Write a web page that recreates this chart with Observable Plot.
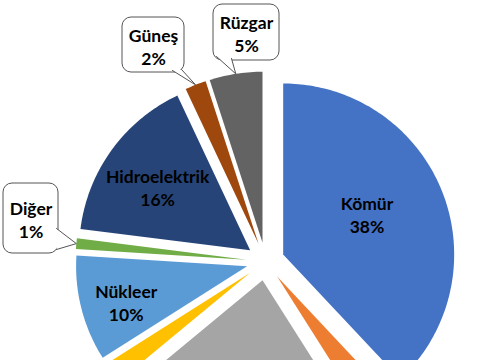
<!DOCTYPE html>
<html>
<head>
<meta charset="utf-8">
<script src="https://cdn.jsdelivr.net/npm/d3@7"></script>
<script src="https://cdn.jsdelivr.net/npm/@observablehq/plot@0.6"></script>
<style>
  html, body { margin: 0; padding: 0; background: #fff; overflow: hidden; }
  #chart svg { display: block; }
</style>
</head>
<body>
<div id="chart"></div>
<script>
// ---- data ----
const names = ["Kömür", "Petrol", "Doğalgaz", "Biyokütle", "Nükleer", "Diğer", "Hidroelektrik", "Güneş", "Rüzgar"];
const shares = [38, 3, 23, 2, 10, 1, 16, 2, 5];
const percentLabels = ["38%", "3%", "23%", "2%", "10%", "1%", "16%", "2%", "5%"];
const colors = ["#4472C4", "#ED7D31", "#A5A5A5", "#FFC000", "#5B9BD5", "#70AD47", "#264478", "#9E480E", "#636363"];
const insideLabelNames = ["Kömür", "Hidroelektrik", "Nükleer"];
const calloutNames = ["Rüzgar", "Güneş", "Diğer"];

// ---- layout (pixels) ----
const W = 485, H = 360;
const CX = 265, CY = 261, R = 171, EXPLODE = 19;
const labelFrac = {"Kömür": 0.54, "Hidroelektrik": 0.64, "Nükleer": 0.73};
const labelShift = {"Kömür": [-2, -6], "Hidroelektrik": [-4, 1], "Nükleer": [0, 5]};
const calloutBox = {
  "Rüzgar": {x1: 213, x2: 279, y1: 4, y2: 60, ax: 216, ay: 56, bx: 231, by: 58},
  "Güneş": {x1: 122, x2: 184, y1: 17, y2: 72, ax: 172, ay: 70, bx: 181, by: 69},
  "Diğer": {x1: 3, x2: 58, y1: 183, y2: 253, ax: 56, ay: 228, bx: 56, by: 249}
};

const data = names.map((n, i) => ({name: n, share: shares[i], pct: percentLabels[i]}));
const arcs = d3.pie().sort(null).value(d => d.share)(data);

const slicePts = [];
const geom = {};
for (const a of arcs) {
  const mid = (a.startAngle + a.endAngle) / 2;
  const ox = CX + EXPLODE * Math.sin(mid), oy = CY - EXPLODE * Math.cos(mid);
  geom[a.data.name] = {ox, oy, mid};
  slicePts.push({name: a.data.name, x: ox, y: oy});
  const n = Math.max(4, Math.ceil((a.endAngle - a.startAngle) / (Math.PI / 180)));
  for (let k = 0; k <= n; k++) {
    const t = a.startAngle + (a.endAngle - a.startAngle) * k / n;
    slicePts.push({name: a.data.name, x: ox + R * Math.sin(t), y: oy - R * Math.cos(t)});
  }
}

const inside = data.filter(d => insideLabelNames.includes(d.name)).map(d => {
  const g = geom[d.name], f = labelFrac[d.name], s = labelShift[d.name];
  return {text: d.name + "\n" + d.pct, x: g.ox + f * R * Math.sin(g.mid) + s[0], y: g.oy - f * R * Math.cos(g.mid) + s[1]};
});

const boxes = data.filter(d => calloutNames.includes(d.name)).map(d => ({name: d.name, text: d.name + "\n" + d.pct, ...calloutBox[d.name]}));
const tails = [];
for (const b of boxes) {
  const g = geom[b.name];
  const tx = g.ox + R * Math.sin(g.mid), ty = g.oy - R * Math.cos(g.mid);
  tails.push({name: b.name, x: b.ax, y: b.ay});
  tails.push({name: b.name, x: tx, y: ty});
  tails.push({name: b.name, x: b.bx, y: b.by});
}

const font = {fontFamily: "Lato, 'Open Sans', sans-serif", fontWeight: "bold", fontSize: 17.5, lineHeight: 1.32, fill: "#000"};

const chart = Plot.plot({
  width: W, height: H, margin: 0,
  style: {background: "#fff", overflow: "hidden"},
  x: {domain: [0, W], range: [0, W], axis: null},
  y: {domain: [0, H], range: [0, H], axis: null},
  color: {domain: names, range: colors},
  marks: [
    Plot.line(slicePts, {x: "x", y: "y", z: "name", fill: "name", stroke: null, curve: "linear-closed"}),
    Plot.rect(boxes, {x1: "x1", x2: "x2", y1: "y1", y2: "y2", rx: 9, fill: "#fff", stroke: "#555", strokeWidth: 1}),
    Plot.line(tails, {x: "x", y: "y", z: "name", fill: "#fff", stroke: "#555", strokeWidth: 1, curve: "linear"}),
    Plot.text(inside, {x: "x", y: "y", text: "text", ...font}),
    Plot.text(boxes, {x: d => (d.x1 + d.x2) / 2, y: d => (d.y1 + d.y2) / 2 + 1, text: "text", ...font})
  ]
});
document.getElementById("chart").append(chart);
</script>
</body>
</html>
